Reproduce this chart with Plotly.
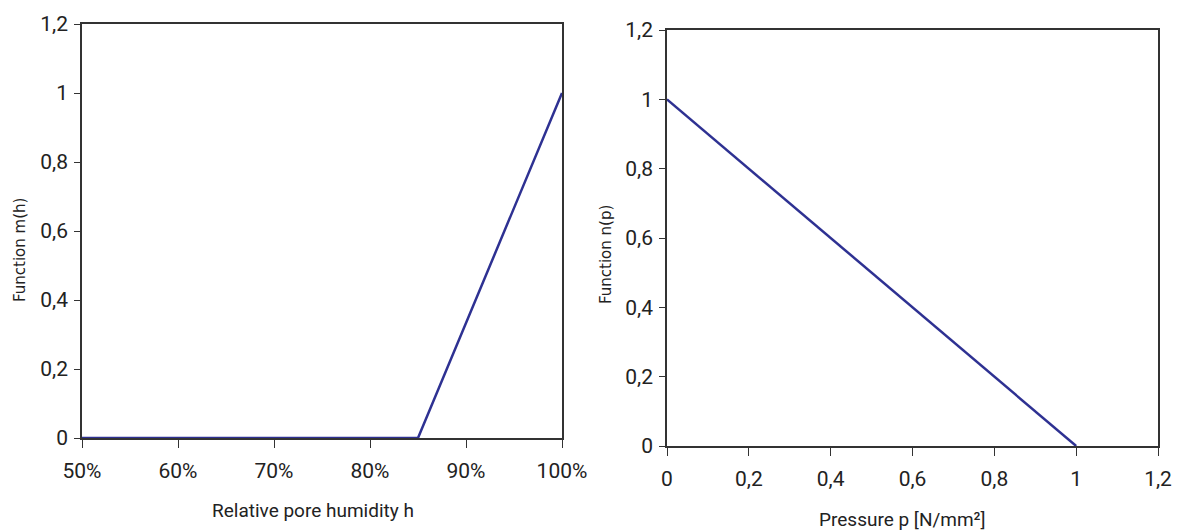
import plotly.graph_objects as go

# Data
h_vals = [0.50, 0.85, 1.00]
m_vals = [0.0, 0.0, 1.0]
p_vals = [0.0, 1.0]
n_vals = [1.0, 0.0]

W, H = 1179, 530
LINE = "#2E3192"
AX = "#333333"
TXT = "#222222"
NARROW = "Roboto, DejaVu Sans Condensed, sans-serif"

def px_x(x):
    return x / W

def px_y(y):
    return 1 - y / H

L_dom_x = [px_x(82), px_x(562)]
L_dom_y = [px_y(438), px_y(24)]
R_dom_x = [px_x(667), px_x(1158)]
R_dom_y = [px_y(446), px_y(30)]

fig = go.Figure()
fig.add_trace(go.Scatter(x=h_vals, y=m_vals, mode="lines", line=dict(color=LINE, width=2.5),
                         xaxis="x", yaxis="y", cliponaxis=False, showlegend=False))
fig.add_trace(go.Scatter(x=p_vals, y=n_vals, mode="lines", line=dict(color=LINE, width=2.5),
                         xaxis="x2", yaxis="y2", cliponaxis=False, showlegend=False))

tickfont = dict(family=NARROW, size=21, color=TXT)

def xax(dom, anchor, rng, dtick, fmt=None, inside=False, overlay=None):
    d = dict(domain=dom, anchor=anchor, range=rng, dtick=dtick, tick0=rng[0],
             showgrid=False, zeroline=False, showline=not inside, linecolor=AX, linewidth=1.5,
             mirror=not inside, ticks="inside" if inside else "outside", ticklen=8,
             tickwidth=1.3, tickcolor=AX, showticklabels=not inside, tickfont=tickfont,
             automargin=False, ticklabelstandoff=5)
    if fmt:
        d["tickformat"] = fmt
    if overlay:
        d["overlaying"] = overlay
    return d

def yax(dom, anchor, rng, dtick, inside=False, overlay=None):
    d = dict(domain=dom, anchor=anchor, range=rng, dtick=dtick, tick0=0,
             showgrid=False, zeroline=False, showline=not inside, linecolor=AX, linewidth=1.5,
             mirror=not inside, ticks="inside" if inside else "outside", ticklen=6,
             tickwidth=1.3, tickcolor=AX, showticklabels=not inside, tickfont=tickfont,
             automargin=False, ticklabelstandoff=2)
    if overlay:
        d["overlaying"] = overlay
    return d

fig.update_layout(
    width=W, height=H,
    margin=dict(l=0, r=0, t=0, b=0, autoexpand=False),
    paper_bgcolor="white", plot_bgcolor="white",
    separators=",.",
    xaxis=xax(L_dom_x, "y", [0.5, 1.0], 0.1, fmt=".0%"),
    yaxis=yax(L_dom_y, "x", [0, 1.2], 0.2),
    xaxis2=xax(R_dom_x, "y2", [0, 1.2], 0.2),
    yaxis2=yax(R_dom_y, "x2", [0, 1.2], 0.2),
    xaxis3=xax(L_dom_x, "y", [0.5, 1.0], 0.1, inside=True, overlay="x"),
    yaxis3=yax(L_dom_y, "x", [0, 1.2], 0.2, inside=True, overlay="y"),
    xaxis4=xax(R_dom_x, "y2", [0, 1.2], 0.2, inside=True, overlay="x2"),
    yaxis4=yax(R_dom_y, "x2", [0, 1.2], 0.2, inside=True, overlay="y2"),
)

titlefont = dict(family=NARROW, size=19, color=TXT)
yfont = dict(family="DejaVu Sans, Verdana, sans-serif", size=15, color=TXT)
ann = [
    dict(text="Relative pore humidity h", x=px_x(313), y=px_y(510), font=titlefont),
    dict(text="Pressure p [N/mm²]", x=px_x(902), y=px_y(519), font=titlefont),
    dict(text="Function m(h)", x=px_x(20), y=px_y(250), font=yfont, textangle=-90),
    dict(text="Function n(p)", x=px_x(606), y=px_y(255), font=yfont, textangle=-90),
]
for a in ann:
    fig.add_annotation(xref="paper", yref="paper", showarrow=False,
                       xanchor="center", yanchor="middle", **a)

fig.write_html("out.html")
